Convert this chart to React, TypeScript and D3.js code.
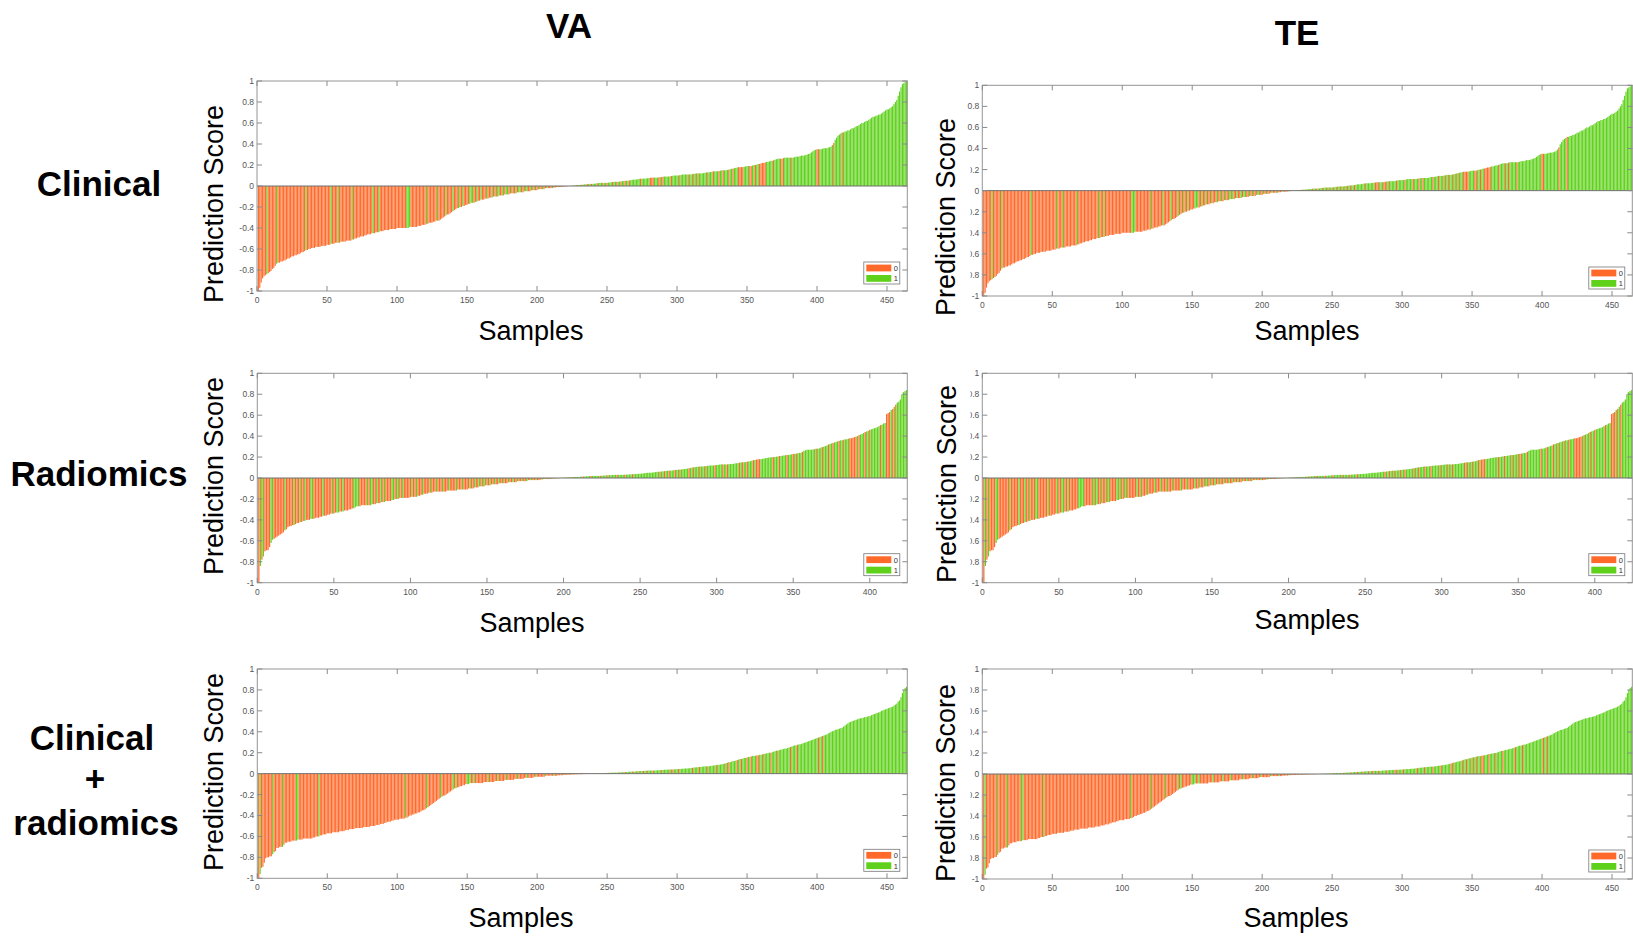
import React from 'react';
import * as d3 from 'd3';

const W = 1633;
const H = 936;
const FONT = '"Liberation Sans", Arial, Helvetica, sans-serif';
const ORANGE = '#FF6A2B';
const GREEN = '#5FD11B';

// sorted prediction scores, in hundredths, one per sample
const clinicalScores = [
  -100, -97, -92, -88, -86, -85, -84, -83, -82, -81,
  -79, -78, -76, -74, -73, -73, -72, -72, -71, -71,
  -70, -69, -69, -68, -67, -67, -66, -66, -65, -65,
  -64, -63, -63, -62, -61, -61, -60, -60, -59, -59,
  -59, -58, -58, -58, -58, -57, -57, -57, -57, -56,
  -56, -56, -55, -55, -55, -54, -54, -54, -54, -53,
  -53, -53, -53, -52, -52, -52, -52, -51, -51, -50,
  -50, -49, -49, -48, -48, -48, -47, -47, -46, -46,
  -46, -45, -45, -45, -44, -44, -44, -43, -43, -43,
  -42, -42, -42, -42, -41, -41, -41, -41, -41, -40,
  -40, -40, -40, -40, -40, -40, -40, -40, -39, -39,
  -39, -39, -39, -39, -38, -38, -38, -37, -37, -37,
  -36, -36, -35, -35, -35, -34, -34, -33, -33, -33,
  -32, -31, -30, -29, -28, -27, -27, -26, -25, -24,
  -23, -22, -21, -21, -20, -20, -19, -19, -18, -18,
  -17, -17, -16, -16, -16, -15, -15, -14, -14, -13,
  -13, -13, -12, -12, -12, -11, -11, -11, -10, -10,
  -10, -10, -9, -9, -9, -9, -8, -8, -8, -8,
  -7, -7, -7, -7, -7, -6, -6, -6, -6, -6,
  -5, -5, -5, -5, -5, -4, -4, -4, -4, -4,
  -3, -3, -3, -3, -3, -2, -2, -2, -2, -2,
  -2, -1.5, -1.5, -1, -1, -1, -1, -0.8, -0.6, -0.5,
  -0.3, -0.2, 0, 0.2, 0.3, 0.5, 0.6, 0.8, 1, 1,
  1, 1.2, 1.3, 1.5, 1.6, 1.8, 2, 2, 2, 2,
  2.2, 2.4, 2.6, 2.8, 3, 3, 3, 3, 3, 3,
  3.2, 3.4, 3.6, 3.8, 4, 4, 4, 4, 4.2, 4.4,
  4.6, 4.8, 5, 5, 5, 5.3, 5.6, 6, 6, 6,
  6.2, 6.5, 6.8, 7, 7, 7, 7, 7.2, 7.4, 7.6,
  7.8, 8, 8, 8, 8, 8, 8.2, 8.4, 8.6, 8.8,
  9, 9, 9, 9, 9.2, 9.5, 9.8, 10, 10, 10,
  10, 10.3, 10.6, 11, 11, 11, 11, 11, 11, 11,
  11.3, 11.6, 11.8, 12, 12, 12, 12, 12, 12.3, 12.6,
  13, 13, 13, 13.3, 13.6, 14, 14, 14, 14, 14.3,
  14.6, 15, 15, 15, 15, 15.3, 15.6, 16, 16.3, 16.6,
  17, 17.3, 17.6, 18, 18, 18, 18, 18.3, 18.6, 19,
  19, 19, 19, 19.5, 20, 20, 20.5, 21, 21, 21.5,
  22, 22, 22.5, 23, 23, 23.5, 24, 24, 24.5, 25,
  25.5, 26, 26, 26, 26, 26.5, 27, 27, 27, 27,
  27, 27, 27, 27.5, 28, 28, 28, 28.5, 29, 29,
  29, 29.5, 30, 30.5, 31, 32, 33, 34, 34.5, 35,
  35, 35, 35, 35.5, 36, 36, 36, 36.5, 37, 37.5,
  39, 41, 44, 46, 48, 49, 50, 51, 51, 52,
  52, 53, 53, 54, 55, 55, 56, 57, 57, 58,
  59, 60, 60, 61, 62, 62, 63, 64, 65, 66,
  66, 67, 67, 68, 68, 69, 70, 71, 72, 73,
  73, 74, 75, 76, 78, 80, 82, 86, 90, 94,
  97, 98, 99, 100,
];

const radiomicsScores = [
  -100, -84, -78, -75, -70, -69, -69, -66, -62, -59,
  -58, -57, -56, -55, -54, -53, -52, -50, -49, -47,
  -46, -46, -45, -45, -44, -43, -43, -42, -42, -41,
  -41, -40, -40, -40, -39, -39, -39, -38, -38, -38,
  -37, -37, -36, -36, -36, -35, -35, -34, -34, -34,
  -33, -33, -33, -32, -32, -32, -31, -31, -31, -30,
  -30, -29, -29, -28, -27, -27, -27, -26, -26, -26,
  -26, -26, -26, -26, -25, -25, -25, -24, -24, -24,
  -23, -23, -23, -22, -22, -22, -22, -21, -21, -20,
  -20, -20, -19, -19, -19, -19, -19, -19, -19, -18,
  -18, -18, -18, -18, -17, -17, -16, -16, -15, -15,
  -15, -14, -14, -14, -13, -13, -13, -13, -13, -13,
  -13, -13, -13, -12, -12, -12, -12, -12, -12, -12,
  -11, -11, -11, -11, -11, -11, -11, -10, -10, -10,
  -10, -9, -9, -9, -8, -8, -8, -8, -7, -7,
  -7, -7, -6, -6, -6, -6, -6, -5, -5, -5,
  -5, -5, -5, -4, -4, -4, -4, -4, -4, -3,
  -3, -3, -3, -3, -3, -3, -2, -2, -2, -2,
  -2, -2, -2, -2, -1.5, -1.5, -1, -1, -1, -1,
  -1, -0.8, -0.6, -0.5, -0.4, -0.3, -0.2, 0, 0.2, 0.3,
  0.4, 0.5, 0.6, 0.7, 0.8, 0.9, 1, 1, 1, 1,
  1.2, 1.3, 1.4, 1.5, 1.6, 1.7, 1.8, 1.9, 2, 2,
  2, 2, 2, 2.1, 2.2, 2.3, 2.4, 2.5, 2.6, 2.7,
  2.8, 2.9, 3, 3, 3, 3, 3, 3, 3, 3.1,
  3.2, 3.3, 3.4, 3.5, 3.6, 3.7, 3.8, 3.9, 4, 4,
  4.2, 4.4, 4.6, 4.8, 5, 5, 5, 5.2, 5.4, 5.6,
  5.8, 6, 6, 6.2, 6.4, 6.6, 6.8, 7, 7, 7,
  7.2, 7.4, 7.6, 7.8, 8, 8, 8.2, 8.4, 8.6, 8.8,
  9, 9.3, 9.6, 10, 10.2, 10.4, 10.6, 10.8, 11, 11,
  11, 11.2, 11.4, 11.6, 11.8, 12, 12, 12, 12.2, 12.4,
  12.6, 12.8, 13, 13, 13, 13, 13, 13.2, 13.3, 13.4,
  13.5, 14, 14, 14.3, 14.6, 15, 15, 15, 15.3, 15.6,
  15.8, 16, 16.5, 17, 17.3, 17.6, 17.8, 18, 18, 18.3,
  18.6, 19, 19.2, 19.5, 19.7, 19.8, 20, 20, 20.3, 20.6,
  21, 21, 21.3, 21.5, 21.8, 22, 22, 22.3, 22.6, 23,
  23, 23.3, 23.6, 24, 24, 25, 26, 26.5, 27, 27,
  27, 27, 27.3, 27.6, 28, 28, 28.3, 29, 29.5, 30,
  30.5, 31, 32, 32.5, 33, 33.5, 34, 34.5, 35, 35.5,
  36, 36, 36.5, 37, 37, 37.5, 38, 38, 38.5, 39,
  39.5, 40, 41, 41.5, 42, 43, 44, 44.5, 45, 46,
  46.5, 47, 47.5, 48, 48.5, 49.5, 50.5, 51, 52, 52.5,
  61, 62, 63, 65, 66, 68, 70, 72, 73, 75,
  80, 82, 83, 84,
];

const combinedScores = [
  -100, -96, -90, -89, -85, -81, -80, -80, -79, -79,
  -77, -75, -74, -71, -71, -70, -70, -70, -68, -66,
  -66, -65, -65, -65, -64, -64, -64, -64, -63, -63,
  -63, -63, -62, -62, -62, -62, -62, -62, -62, -61,
  -61, -60, -60, -60, -59, -59, -58, -58, -58, -57,
  -57, -57, -57, -56, -56, -56, -56, -56, -55, -55,
  -55, -55, -54, -54, -54, -53, -53, -53, -53, -52,
  -52, -52, -52, -52, -52, -51, -51, -51, -51, -51,
  -50, -50, -50, -50, -49, -49, -49, -48, -48, -48,
  -47, -47, -46, -46, -46, -45, -45, -44, -44, -44,
  -44, -43, -43, -43, -43, -42, -42, -41, -40, -40,
  -39, -39, -38, -38, -37, -37, -36, -35, -35, -34,
  -33, -32, -31, -30, -29, -28, -27, -26, -25, -24,
  -23, -22, -21, -21, -20, -19, -18, -17, -16, -15,
  -14, -14, -13, -13, -12, -12, -11, -11, -10, -10,
  -10, -9, -9, -9, -9, -9, -9, -9, -9, -9,
  -9, -8, -8, -8, -8, -8, -8, -8, -8, -7,
  -7, -7, -7, -7, -7, -7, -6, -6, -6, -6,
  -6, -6, -6, -5, -5, -5, -5, -5, -5, -5,
  -4, -4, -4, -4, -4, -4, -4, -3, -3, -3,
  -3, -3, -3, -3, -3, -2, -2, -2, -2, -2,
  -2, -2, -2, -2, -1.5, -1.5, -1.5, -1.5, -1.2, -1.2,
  -1, -1, -1, -1, -0.8, -0.8, -0.7, -0.7, -0.6, -0.6,
  -0.5, -0.5, -0.4, -0.4, -0.3, -0.3, -0.2, -0.2, -0.1, 0,
  0.1, 0.2, 0.2, 0.3, 0.3, 0.4, 0.5, 0.5, 0.6, 0.7,
  0.8, 0.9, 0.9, 1, 1, 1, 1, 1.1, 1.2, 1.3,
  1.3, 1.4, 1.5, 1.6, 1.7, 1.8, 1.9, 2, 2, 2.1,
  2.2, 2.3, 2.4, 2.5, 2.6, 2.6, 2.7, 2.8, 2.9, 3,
  3, 3, 3, 3, 3.1, 3.2, 3.3, 3.4, 3.5, 3.6,
  3.7, 3.8, 3.8, 3.9, 4, 4, 4, 4.1, 4.2, 4.3,
  4.4, 4.5, 4.6, 4.7, 4.8, 4.9, 5, 5, 5.2, 5.4,
  5.6, 5.8, 6, 6.1, 6.2, 6.4, 6.5, 6.7, 6.8, 7,
  7, 7, 7.2, 7.4, 7.6, 7.8, 8, 8.2, 8.4, 8.5,
  8.7, 9, 9.3, 9.6, 10, 10.5, 11, 11, 11.5, 12,
  12, 12.5, 13, 13.5, 14, 14, 14.5, 15, 15, 15.5,
  16, 16, 16.5, 17, 17, 17, 17.5, 17.5, 18, 18,
  18.5, 19, 19, 19.5, 19.5, 20, 20, 20.5, 21, 21.5,
  22, 22, 22.5, 23, 23, 23.5, 24, 24, 24.5, 25,
  25.5, 26, 26.5, 27, 27, 27.5, 28, 28, 28.5, 29,
  29.5, 30, 30.5, 31, 31.5, 32, 32.5, 33, 33.5, 34,
  34.5, 35, 35.5, 36, 36.5, 37, 37.5, 38.5, 39, 40,
  40.5, 41, 42, 42, 42.5, 43, 43.5, 44, 45, 46,
  47, 48, 49, 49.5, 50, 50.5, 51, 51.5, 52, 52.5,
  53, 53, 53.5, 54, 54, 54.5, 55, 55, 56, 56.5,
  57, 57.5, 58, 58.5, 59, 60, 60.5, 61, 61.5, 62,
  62.5, 63, 63.5, 64, 65, 66, 67, 69, 70, 73,
  77, 80, 82, 83,
];

// samples (1-based) of class 1 among the negative scores, and of class 0 among the positive ones
const clinicalGreenNeg = [7, 14, 35, 53, 58, 68, 83, 87, 107, 108, 109, 121, 129, 135, 140, 144, 147, 152, 153, 154, 157, 160, 164, 168, 171, 173, 176, 178, 179, 182, 185, 187, 188, 191, 193, 196, 198, 201, 204, 207, 211, 215, 219];
const clinicalOrangePos = [228, 232, 236, 239, 243, 247, 250, 254, 257, 260, 263, 266, 274, 281, 282, 283, 287, 288, 290, 296, 302, 308, 312, 315, 322, 326, 330, 333, 337, 340, 344, 345, 346, 347, 352, 353, 356, 359, 360, 361, 362, 363, 369, 374, 376, 382, 400, 401, 412, 418];

const radiomicsGreenNeg = [2, 4, 9, 10, 18, 24, 28, 31, 35, 36, 43, 49, 52, 53, 56, 63, 64, 65, 66, 72, 74, 75, 78, 81, 83, 88, 89, 91, 93, 95, 101, 104, 108, 113, 117, 121, 125, 130, 134, 139, 142, 145, 147, 149, 152, 155, 158, 161, 164, 167, 170, 173, 176, 179, 182, 186, 189, 192, 195, 198];
const radiomicsOrangePos = [204, 208, 213, 218, 224, 229, 235, 240, 245, 263, 266, 269, 273, 276, 282, 285, 289, 293, 299, 304, 307, 315, 317, 320, 324, 326, 327, 328, 337, 341, 346, 350, 352, 356, 365, 369, 373, 376, 380, 383, 387, 388, 389, 390, 391, 393, 397, 400, 407, 411, 412, 413, 415, 417];

const combinedGreenNeg = [2, 11, 18, 28, 29, 44, 106, 121, 131, 140, 142, 150, 151, 152, 155, 165, 172, 178, 186, 193, 199, 206, 212, 219, 226, 233];
const combinedOrangePos = [244, 251, 258, 263, 268, 272, 276, 279, 283, 289, 295, 297, 301, 311, 316, 322, 328, 335, 337, 343, 346, 350, 353, 357, 358, 362, 367, 372, 381, 386, 401, 404];

const columnTitles = ['VA', 'TE'];
const yTicks = [-1, -0.8, -0.6, -0.4, -0.2, 0, 0.2, 0.4, 0.6, 0.8, 1];
const xTicks464 = [0, 50, 100, 150, 200, 250, 300, 350, 400, 450];
const xTicks424 = [0, 50, 100, 150, 200, 250, 300, 350, 400];
const legendLabels = ['0', '1'];

type Box = { x0: number; x1: number; y0: number; y1: number };

type PanelCfg = {
  id: string;
  box: Box;
  scores: number[];
  greenNeg: number[];
  orangePos: number[];
  xTicks: number[];
  yLab: [number, number];
  xLab: [number, number];
  clipX?: number;
  keep?: number[];
};

const panels: PanelCfg[] = [
  { id: 'va1', box: { x0: 257, x1: 907.3, y0: 81, y1: 291 }, scores: clinicalScores, greenNeg: clinicalGreenNeg, orangePos: clinicalOrangePos, xTicks: xTicks464, yLab: [223, 204], xLab: [531, 340] },
  { id: 'va2', box: { x0: 257.3, x1: 907.3, y0: 373.3, y1: 582.7 }, scores: radiomicsScores, greenNeg: radiomicsGreenNeg, orangePos: radiomicsOrangePos, xTicks: xTicks424, yLab: [223, 476], xLab: [532, 632] },
  { id: 'va3', box: { x0: 257.3, x1: 907.3, y0: 669, y1: 878.3 }, scores: combinedScores, greenNeg: combinedGreenNeg, orangePos: combinedOrangePos, xTicks: xTicks464, yLab: [223, 772], xLab: [521, 927] },
  { id: 'te1', box: { x0: 982.3, x1: 1632.3, y0: 85.3, y1: 296 }, scores: clinicalScores, greenNeg: clinicalGreenNeg, orangePos: clinicalOrangePos, xTicks: xTicks464, yLab: [955, 217], xLab: [1307, 340], clipX: 970.5, keep: [0.4, 0.6, 0.8] },
  { id: 'te2', box: { x0: 982.3, x1: 1632.3, y0: 373.3, y1: 582.7 }, scores: radiomicsScores, greenNeg: radiomicsGreenNeg, orangePos: radiomicsOrangePos, xTicks: xTicks424, yLab: [956, 484], xLab: [1307, 629], clipX: 970.5, keep: [] },
  { id: 'te3', box: { x0: 982.3, x1: 1632.3, y0: 669, y1: 879 }, scores: combinedScores, greenNeg: combinedGreenNeg, orangePos: combinedOrangePos, xTicks: xTicks464, yLab: [955, 783], xLab: [1296, 927], clipX: 970.5, keep: [] },
];

const rowLabels = [
  { text: 'Clinical', x: 99, y: 196 },
  { text: 'Radiomics', x: 99, y: 486 },
  { text: 'Clinical', x: 92, y: 750 },
  { text: '+', x: 95, y: 791 },
  { text: 'radiomics', x: 96, y: 835 },
];

const fmt = (v: number) => String(Math.round(v * 10) / 10);

function Panel({ cfg }: { cfg: PanelCfg }) {
  const { box, scores } = cfg;
  const n = scores.length;
  const x = d3.scaleLinear().domain([0, n + 0.5]).range([box.x0, box.x1]);
  const y = d3.scaleLinear().domain([-1, 1]).range([box.y1, box.y0]);
  const bw = x(0.82) - x(0);
  const tick = 5;
  const isKept = (v: number) => (cfg.keep || []).some((k) => Math.abs(k - v) < 1e-9);

  const lx1 = box.x1 - 7.5;
  const lx0 = lx1 - 36;
  const ly1 = box.y1 - 7;
  const ly0 = ly1 - 22;

  return (
    <g>
      {cfg.clipX !== undefined && (
        <defs>
          <clipPath id={`clip-${cfg.id}`}>
            <rect x={cfg.clipX} y={box.y0 - 20} width={box.x0 - cfg.clipX} height={box.y1 - box.y0 + 40} />
          </clipPath>
        </defs>
      )}
      {scores.map((s, i) => {
        const idx = i + 1;
        const v = s / 100;
        const label = v < 0 ? (cfg.greenNeg.includes(idx) ? 1 : 0) : (cfg.orangePos.includes(idx) ? 0 : 1);
        const top = Math.min(y(v), y(0));
        const h = Math.abs(y(v) - y(0));
        return <rect key={idx} x={x(idx - 0.41)} y={top} width={bw} height={h} fill={label ? GREEN : ORANGE} />;
      })}
      <line x1={box.x0} x2={box.x1} y1={y(0)} y2={y(0)} stroke="#707070" strokeWidth={1} />
      <rect x={box.x0} y={box.y0} width={box.x1 - box.x0} height={box.y1 - box.y0} fill="none" stroke="#959595" strokeWidth={1} />
      {cfg.xTicks.map((t) => (
        <g key={`x${t}`}>
          <line x1={x(t)} x2={x(t)} y1={box.y1} y2={box.y1 - tick} stroke="#8a8a8a" />
          <line x1={x(t)} x2={x(t)} y1={box.y0} y2={box.y0 + tick} stroke="#8a8a8a" />
          <text x={x(t)} y={box.y1 + 12} fontSize={8.5} fill="#555" textAnchor="middle">{t}</text>
        </g>
      ))}
      {yTicks.map((t) => (
        <g key={`y${t}`}>
          <line x1={box.x0} x2={box.x0 + tick} y1={y(t)} y2={y(t)} stroke="#8a8a8a" />
          <line x1={box.x1} x2={box.x1 - tick} y1={y(t)} y2={y(t)} stroke="#8a8a8a" />
          <text
            x={box.x0 - 3}
            y={y(t)}
            dy="0.35em"
            fontSize={8.5}
            fill="#555"
            textAnchor="end"
            clipPath={cfg.clipX !== undefined && !isKept(t) ? `url(#clip-${cfg.id})` : undefined}
          >
            {fmt(t)}
          </text>
        </g>
      ))}
      <g>
        <rect x={lx0} y={ly0} width={lx1 - lx0} height={ly1 - ly0} fill="#fff" stroke="#777" strokeWidth={0.8} />
        <rect x={lx0 + 2.5} y={ly0 + 2.6} width={25} height={6.8} fill={ORANGE} />
        <rect x={lx0 + 2.5} y={ly0 + 13} width={25} height={6.8} fill={GREEN} />
        {legendLabels.map((l, i) => (
          <text key={l} x={lx0 + 30} y={ly0 + 8.8 + i * 10.4} fontSize={7.5} fill="#333">{l}</text>
        ))}
      </g>
      <text
        transform={`translate(${cfg.yLab[0]},${cfg.yLab[1]}) rotate(-90)`}
        fontSize={27}
        textAnchor="middle"
        fill="#000"
      >
        Prediction Score
      </text>
      <text x={cfg.xLab[0]} y={cfg.xLab[1]} fontSize={27} textAnchor="middle" fill="#000">Samples</text>
    </g>
  );
}

export default function App() {
  const titleX = [569, 1297];
  const titleY = [38, 45];
  return (
    <svg width={W} height={H} style={{ position: 'absolute', left: 0, top: 0, background: '#fff' }} fontFamily={FONT}>
      <rect width={W} height={H} fill="#fff" />
      {columnTitles.map((t, i) => (
        <text key={t} x={titleX[i]} y={titleY[i]} fontSize={35} fontWeight="bold" textAnchor="middle">{t}</text>
      ))}
      {rowLabels.map((r, i) => (
        <text key={i} x={r.x} y={r.y} fontSize={35} fontWeight="bold" textAnchor="middle">{r.text}</text>
      ))}
      {panels.map((p) => <Panel key={p.id} cfg={p} />)}
    </svg>
  );
}
